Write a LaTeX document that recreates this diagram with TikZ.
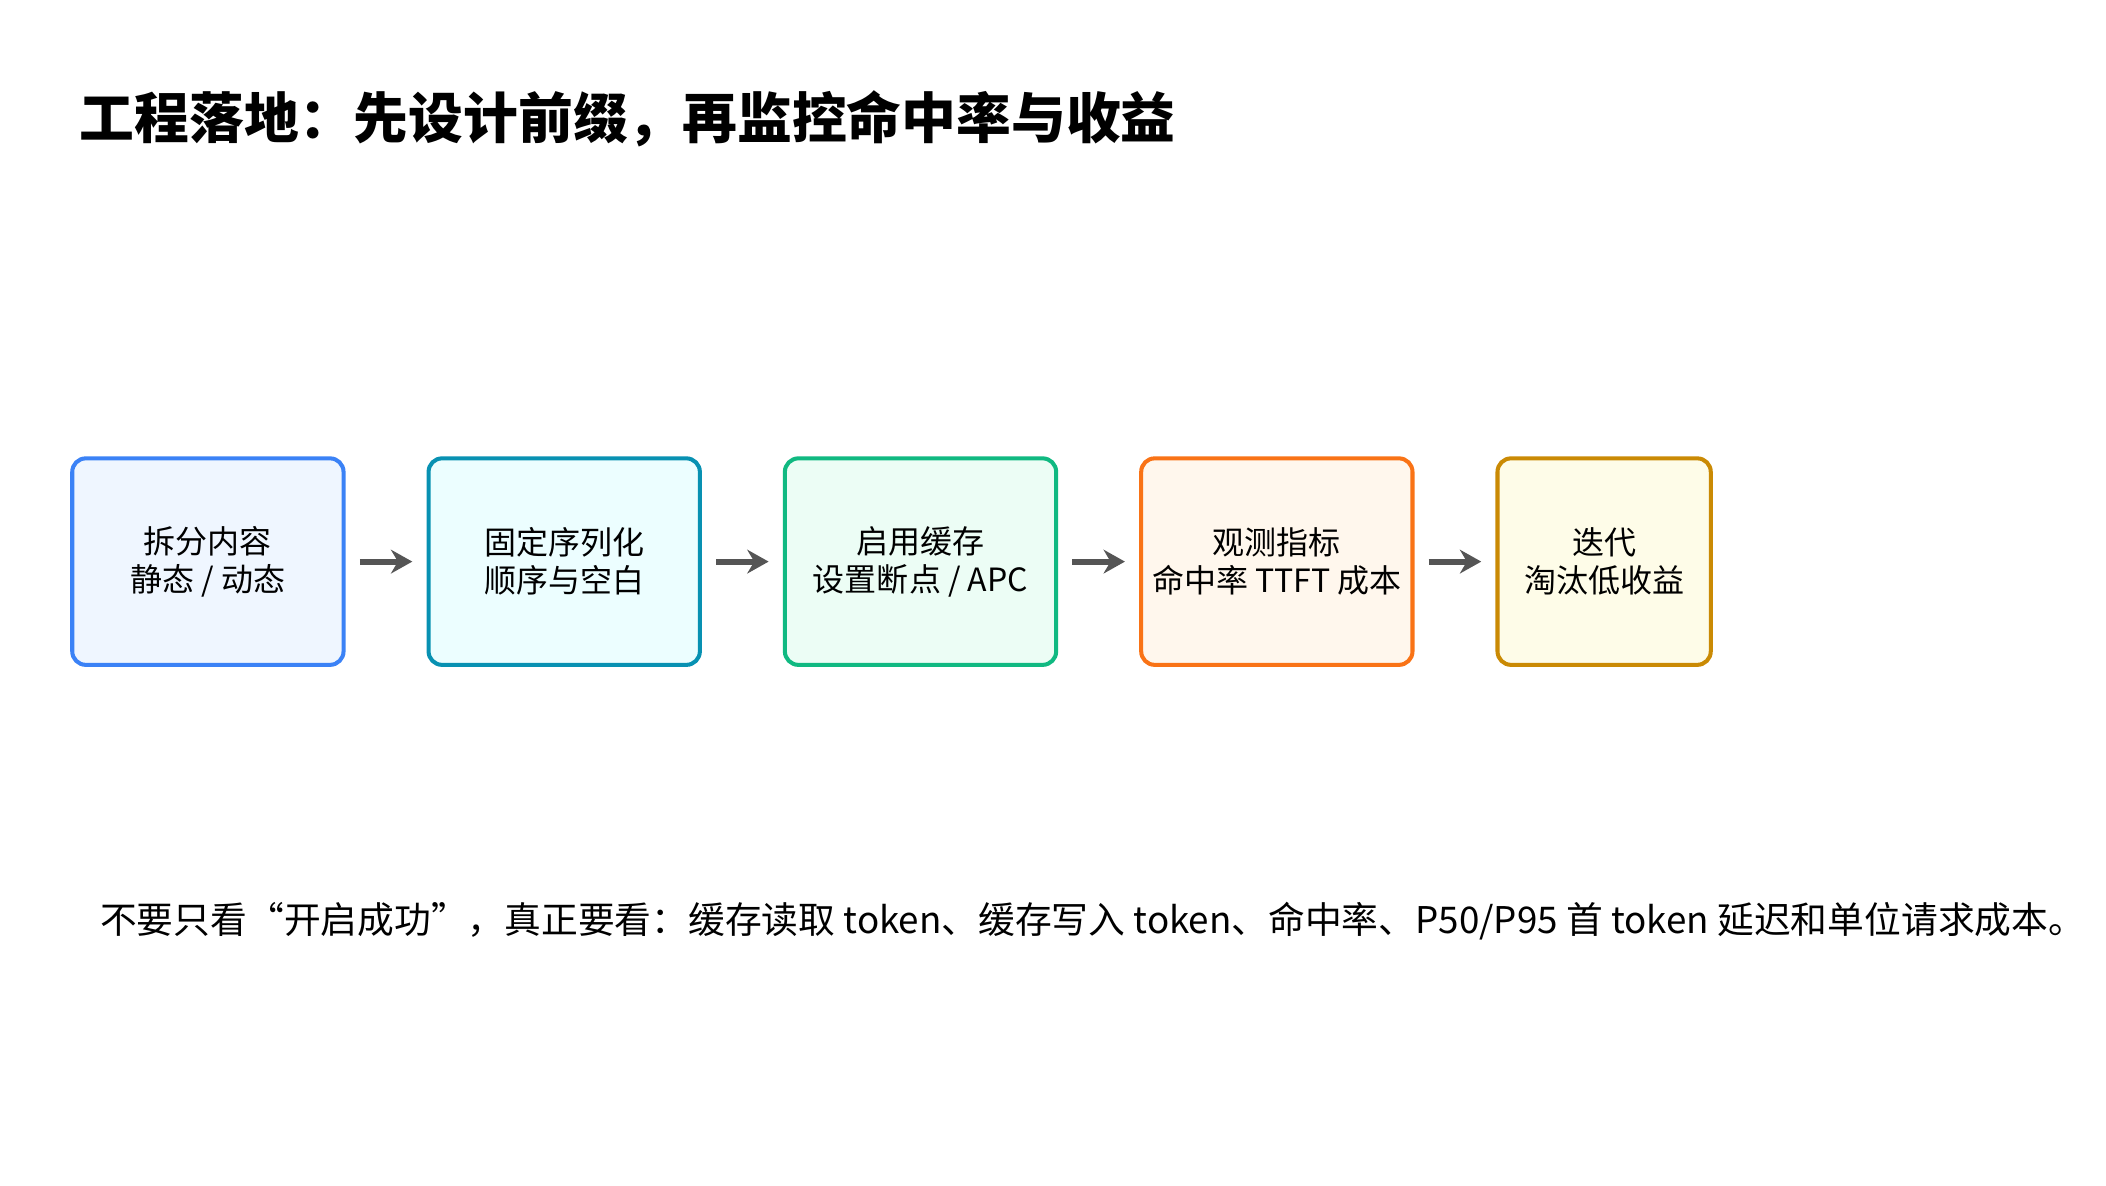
\documentclass[tikz,border=0pt]{standalone}
\usepackage{fontspec}
\setmainfont{Noto Sans CJK SC}
\usetikzlibrary{positioning,arrows.meta}
\definecolor{bluebd}{HTML}{3B82F6}\definecolor{bluebg}{HTML}{EFF6FF}
\definecolor{tealbd}{HTML}{0891B2}\definecolor{tealbg}{HTML}{ECFEFF}
\definecolor{greenbd}{HTML}{10B981}\definecolor{greenbg}{HTML}{ECFDF5}
\definecolor{orangebd}{HTML}{F97316}\definecolor{orangebg}{HTML}{FFF7ED}
\definecolor{yellowbd}{HTML}{CA8A04}\definecolor{yellowbg}{HTML}{FEFCE8}
\definecolor{arrowgray}{HTML}{555555}
\begin{document}
\begin{tikzpicture}[x=0.02cm,y=-0.02cm, node distance=1.2cm,
    step node/.style={draw,rounded corners=0.2cm,line width=1.7pt,minimum width=4.02cm,
      minimum height=3.06cm,align=center,font=\fontsize{13.5}{16}\selectfont},
    flow/.style={-{Stealth[length=9pt,width=10pt]},arrowgray,line width=2.5pt,shorten <=6pt,shorten >=6pt}]
  \useasboundingbox (0,0) rectangle (1560,878.5);

  \node[anchor=west,font=\fontsize{23.1}{26}\selectfont\bfseries] (title) at (53,88)
    {工程落地：先设计前缀，再监控命中率与收益};

  \node[step node,draw=bluebd,fill=bluebg] (split) at (154,416) {拆分内容\\静态 / 动态};
  \node[step node,draw=tealbd,fill=tealbg] (fix) [right=of split] {固定序列化\\顺序与空白};
  \node[step node,draw=greenbd,fill=greenbg] (cache) [right=of fix] {启用缓存\\设置断点 / APC};
  \node[step node,draw=orangebd,fill=orangebg] (watch) [right=of cache] {观测指标\\命中率 TTFT 成本};
  \node[step node,draw=yellowbd,fill=yellowbg,minimum width=3.16cm] (iter) [right=of watch] {迭代\\淘汰低收益};

  \draw[flow] (split) -- (fix);
  \draw[flow] (fix) -- (cache);
  \draw[flow] (cache) -- (watch);
  \draw[flow] (watch) -- (iter);

  \node[anchor=west,font=\fontsize{15.5}{18}\selectfont] (note) at (68,682)
    {不要只看“开启成功”，真正要看：缓存读取 token、缓存写入 token、命中率、P50/P95 首 token 延迟和单位请求成本。};
\end{tikzpicture}
\end{document}
